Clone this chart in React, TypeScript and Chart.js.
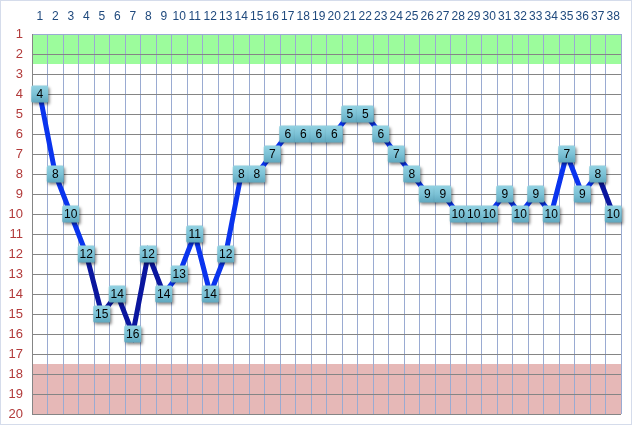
import React, { useEffect, useRef } from "react";
import { Chart, registerables } from "chart.js";

Chart.register(...registerables);

const xLabels = ["1","2","3","4","5","6","7","8","9","10","11","12","13","14","15","16","17","18","19","20","21","22","23","24","25","26","27","28","29","30","31","32","33","34","35","36","37","38"];
const values = [4,8,10,12,15,14,16,12,14,13,11,14,12,8,8,7,6,6,6,6,5,5,6,7,8,9,9,10,10,10,9,10,9,10,7,9,8,10];
// segment shade: B = bright blue, D = dark navy (segment i -> i+1)
const segmentShades = ["B","B","B","D","D","D","D","D","B","B","B","B","B","B","B","B","B","B","B","B","B","B","B","B","B","B","B","B","B","B","B","B","B","B","B","B","D"];
const yMin = 1;
const yMax = 20;
const greenBand = [1, 2.5];
const redBand = [17.5, 20];

const BRIGHT = "#0a34ee";
const DARK = "#0a169e";

const bandsPlugin = {
  id: "bands",
  beforeDraw(chart: any) {
    const { ctx, chartArea, scales } = chart;
    const y = scales.y;
    ctx.save();
    ctx.fillStyle = "#ffffff";
    ctx.fillRect(0, 0, chart.width, chart.height);
    ctx.strokeStyle = "#d5dceb";
    ctx.lineWidth = 1;
    ctx.strokeRect(0.5, 0.5, chart.width - 1, chart.height - 1);
    const g1 = y.getPixelForValue(greenBand[0]);
    const g2 = y.getPixelForValue(greenBand[1]);
    ctx.fillStyle = "#9cfc9c";
    ctx.fillRect(chartArea.left, Math.min(g1, g2), chartArea.right - chartArea.left, Math.abs(g2 - g1));
    const r1 = y.getPixelForValue(redBand[0]);
    const r2 = y.getPixelForValue(redBand[1]);
    ctx.fillStyle = "#e6b8b7";
    ctx.fillRect(chartArea.left, Math.min(r1, r2), chartArea.right - chartArea.left, Math.abs(r2 - r1));
    ctx.restore();
  },
};

const labelBoxPlugin = {
  id: "labelBoxes",
  afterDatasetsDraw(chart: any) {
    const { ctx } = chart;
    const meta = chart.getDatasetMeta(0);
    const data = chart.data.datasets[0].data as number[];
    const half = 8.5;
    meta.data.forEach((pt: any, i: number) => {
      const x = pt.x;
      const y = pt.y;
      ctx.save();
      ctx.shadowColor = "rgba(0,0,0,0.45)";
      ctx.shadowBlur = 3;
      ctx.shadowOffsetX = 1.5;
      ctx.shadowOffsetY = 2;
      const grad = ctx.createLinearGradient(0, y - half, 0, y + half);
      grad.addColorStop(0, "#93d2e2");
      grad.addColorStop(0.5, "#7cc2d6");
      grad.addColorStop(1, "#5ea7be");
      ctx.fillStyle = grad;
      ctx.beginPath();
      if ((ctx as any).roundRect) {
        (ctx as any).roundRect(x - half, y - half, half * 2, half * 2, 1.5);
      } else {
        ctx.rect(x - half, y - half, half * 2, half * 2);
      }
      ctx.fill();
      ctx.restore();
      ctx.save();
      ctx.fillStyle = "#000000";
      ctx.font = "12px 'Liberation Sans', Arial, sans-serif";
      ctx.textAlign = "center";
      ctx.textBaseline = "middle";
      ctx.fillText(String(data[i]), x, y + 0.5);
      ctx.restore();
    });
  },
};

export default function App() {
  const canvasRef = useRef<HTMLCanvasElement | null>(null);

  useEffect(() => {
    document.body.style.margin = "0";
    const canvas = canvasRef.current;
    if (!canvas) return;
    const chart = new Chart(canvas, {
      type: "line",
      data: {
        labels: xLabels,
        datasets: [
          {
            data: values,
            borderColor: BRIGHT,
            borderWidth: 5,
            pointRadius: 0,
            tension: 0,
            fill: false,
            segment: {
              borderColor: (c: any) => (segmentShades[c.p0DataIndex] === "D" ? DARK : BRIGHT),
            },
          },
        ],
      },
      options: {
        animation: false,
        responsive: false,
        maintainAspectRatio: false,
        devicePixelRatio: 1,
        layout: { padding: { left: 0, right: 11, top: 0, bottom: 11 } },
        plugins: { legend: { display: false }, tooltip: { enabled: false } },
        scales: {
          x: {
            type: "category",
            position: "top",
            offset: true,
            grid: { offset: true, color: "#9aabd2", drawTicks: false, lineWidth: 1 },
            border: { color: "#9aabd2" },
            ticks: {
              color: "#1f497d",
              font: { size: 12, family: "'Liberation Sans', Arial, sans-serif" },
              padding: 10,
              maxRotation: 0,
              autoSkip: false,
            },
            afterFit: (s: any) => {
              s.height = 34;
              s.paddingLeft = 0;
              s.paddingRight = 0;
            },
          },
          y: {
            reverse: true,
            min: yMin,
            max: yMax,
            ticks: {
              stepSize: 1,
              color: "#b23a3a",
              padding: 9,
              font: { size: 13, family: "'Liberation Sans', Arial, sans-serif" },
            },
            grid: { color: "#858585", drawTicks: false, lineWidth: 1 },
            border: { color: "#858585" },
            afterFit: (s: any) => {
              s.width = 32;
              s.paddingTop = 0;
              s.paddingBottom = 0;
            },
          },
        },
      } as any,
      plugins: [bandsPlugin, labelBoxPlugin],
    });
    return () => chart.destroy();
  }, []);

  return (
    <div style={{ width: 632, height: 425 }}>
      <canvas ref={canvasRef} width={632} height={425} style={{ display: "block" }} />
    </div>
  );
}
